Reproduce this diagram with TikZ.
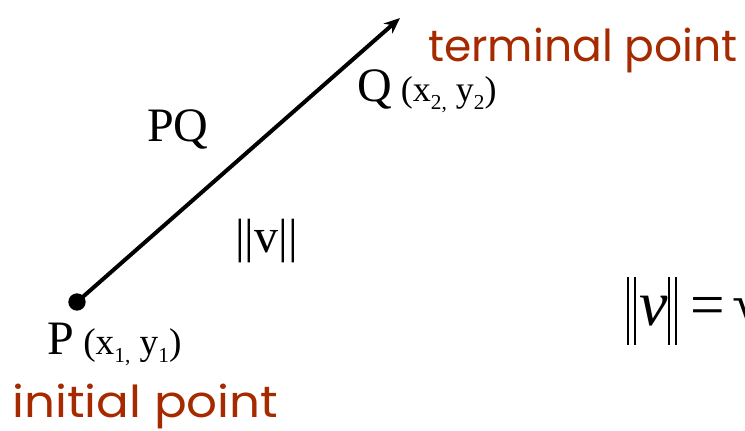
\documentclass[tikz,border=0pt]{standalone}
\usepackage{fontspec}
\setmainfont{Liberation Serif}
\newfontfamily\handfont{Poppins}
\usetikzlibrary{arrows.meta}
\definecolor{labred}{RGB}{165,42,0}
\newcommand{\mysub}[1]{\raisebox{-0.22em}{\fontsize{16}{16}\selectfont #1}}
\tikzset{
  dotnode/.style={circle, fill=black, inner sep=0pt, minimum size=13pt},
  vec/.style={line width=3pt, -{Stealth[length=12pt, width=10pt]}},
  serif/.style={font=\fontsize{36}{36}\selectfont, inner sep=0pt, anchor=base west},
  hand/.style={font=\handfont\fontsize{33}{33}\selectfont, text=labred, inner sep=0pt, anchor=base west},
  bar/.style={line width=1.7pt}
}
\begin{document}
\begin{tikzpicture}[x=0.75pt,y=-0.75pt]
\useasboundingbox (0,0) rectangle (745,431);
\node[dotnode] (P) at (77,302) {};
\coordinate (T) at (400,18);
\draw[vec] (P.center) -- (T);
\node[serif] (Plab) at (47,354) {P\fontsize{28}{28}\selectfont\ (x\mysub{1,} y\mysub{1})};
\node[serif] (Qlab) at (357,102) {Q\fontsize{27}{27}\selectfont\ (x\mysub{2,} y\mysub{2})};
\node[serif] (PQ) at (147,142) {PQ};
\node[serif] (norm) at (235,252) {||v||};
\node[hand] (init) at (12,417) {\scalebox{1.1}[1]{initial point}};
\node[hand] (term) at (428,62) {terminal point};
% formula on the right
\coordinate (b1t) at (628,277); \coordinate (b1b) at (628,345);
\coordinate (b2t) at (635,277); \coordinate (b2b) at (635,345);
\coordinate (b3t) at (669,277); \coordinate (b3b) at (669,345);
\coordinate (b4t) at (676,277); \coordinate (b4b) at (676,345);
\draw[bar] (b1t) -- (b1b); \draw[bar] (b2t) -- (b2b);
\draw[bar] (b3t) -- (b3b); \draw[bar] (b4t) -- (b4b);
\node[serif, font=\fontsize{48}{48}\selectfont\itshape] (vv) at (639,325) {v};
\node[serif, font=\fontsize{46}{46}\selectfont] (eq) at (690,325) {=};
\node[serif, font=\fontsize{46}{46}\selectfont] (sq) at (732,325) {√};
\end{tikzpicture}
\end{document}
